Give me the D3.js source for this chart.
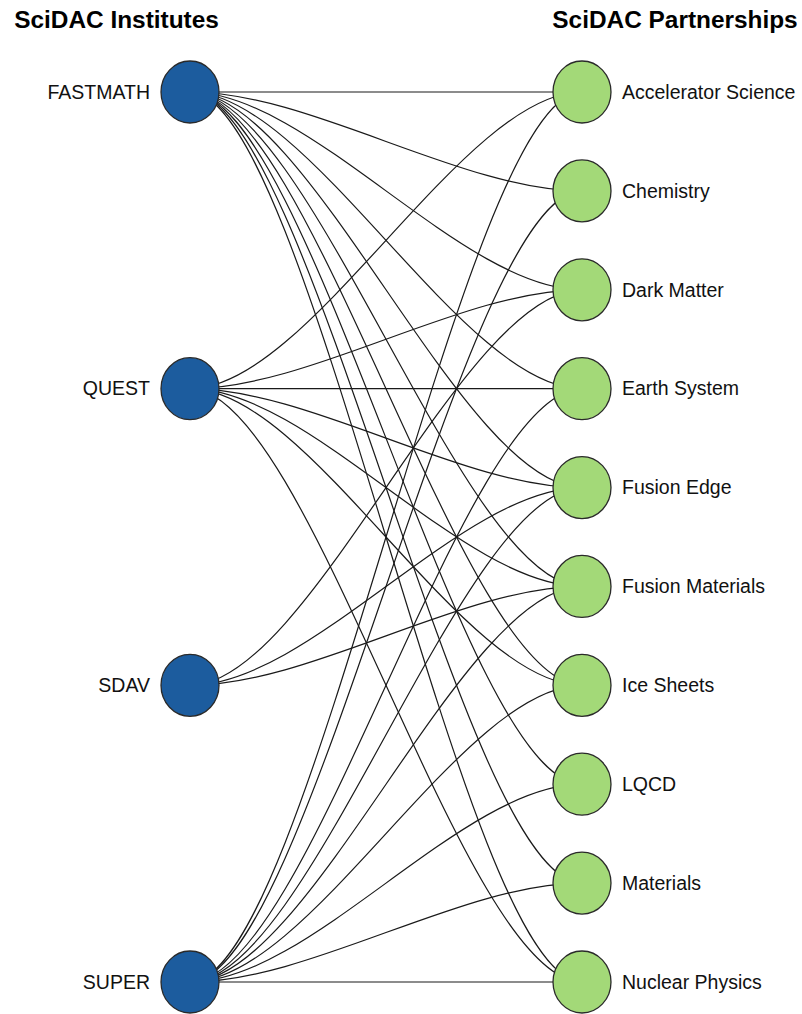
<!DOCTYPE html>
<html lang="en">
<head>
  <meta charset="UTF-8">
  <title>SciDAC</title>
  <script src="https://d3js.org/d3.v7.min.js"></script>
  <style type="text/css">
    body {
      margin: 0;
      background: #fff;
    }
    .title {
      font-family: "Liberation Sans", Arial, sans-serif;
      font-weight: bold;
      font-size: 24.4px;
    }
    .label {
      font-family: "Liberation Sans", Arial, sans-serif;
      font-size: 19.5px;
      fill: #111;
    }
  </style>
</head>
<body>
  <svg id="chart" width="802" height="1014"></svg>

<script>
  // left column
  const institutes = ['FASTMATH', 'QUEST', 'SDAV', 'SUPER']
  // right column
  const partnerships = ['Accelerator Science', 'Chemistry', 'Dark Matter', 'Earth System',
    'Fusion Edge', 'Fusion Materials', 'Ice Sheets', 'LQCD', 'Materials', 'Nuclear Physics']
  // which partnerships each institute is linked to
  const fastmathLinks = ['Accelerator Science', 'Chemistry', 'Dark Matter', 'Earth System',
    'Fusion Edge', 'Fusion Materials', 'Ice Sheets', 'LQCD', 'Materials', 'Nuclear Physics']
  const questLinks = ['Accelerator Science', 'Dark Matter', 'Earth System', 'Fusion Edge',
    'Fusion Materials', 'Ice Sheets', 'Nuclear Physics']
  const sdavLinks = ['Dark Matter', 'Fusion Edge', 'Fusion Materials']
  const superLinks = ['Accelerator Science', 'Chemistry', 'Earth System', 'Fusion Edge',
    'Fusion Materials', 'Ice Sheets', 'LQCD', 'Materials', 'Nuclear Physics']
  const titles = ['SciDAC Institutes', 'SciDAC Partnerships']

  const links = []
  ;[fastmathLinks, questLinks, sdavLinks, superLinks].forEach((list, i) => {
    list.forEach(t => links.push({ source: institutes[i], target: t }))
  })

  const svg = d3.select('#chart')

  const xLeft = 190, xRight = 582
  const yLeft = d3.scalePoint().domain(institutes).range([92, 982])
  const yRight = d3.scalePoint().domain(partnerships).range([92, 982])

  // bezier edge, control points pushed out horizontally from each end
  const pull = 120
  function edgePath (d) {
    const x0 = xLeft, y0 = yLeft(d.source)
    const x1 = xRight, y1 = yRight(d.target)
    const p = d3.path()
    p.moveTo(x0, y0)
    p.bezierCurveTo(x0 + pull, y0, x1 - pull, y1, x1, y1)
    return p.toString()
  }

  svg.append('g')
    .selectAll('path')
    .data(links)
    .join('path')
    .attr('d', edgePath)
    .attr('fill', 'none')
    .attr('stroke', '#1a1a1a')
    .attr('stroke-width', 1.2)

  svg.append('g')
    .selectAll('ellipse')
    .data(institutes)
    .join('ellipse')
    .attr('cx', xLeft)
    .attr('cy', d => yLeft(d))
    .attr('rx', 29)
    .attr('ry', 31)
    .attr('fill', '#1c5c9e')
    .attr('stroke', '#2a2a2a')
    .attr('stroke-width', 1.3)

  svg.append('g')
    .selectAll('ellipse')
    .data(partnerships)
    .join('ellipse')
    .attr('cx', xRight)
    .attr('cy', d => yRight(d))
    .attr('rx', 29)
    .attr('ry', 31)
    .attr('fill', '#a3d978')
    .attr('stroke', '#2a2a2a')
    .attr('stroke-width', 1.3)

  svg.append('g')
    .selectAll('text')
    .data(institutes)
    .join('text')
    .attr('class', 'label')
    .attr('x', 150)
    .attr('y', d => yLeft(d))
    .attr('dy', '0.35em')
    .attr('text-anchor', 'end')
    .text(d => d)

  svg.append('g')
    .selectAll('text')
    .data(partnerships)
    .join('text')
    .attr('class', 'label')
    .attr('x', 622)
    .attr('y', d => yRight(d))
    .attr('dy', '0.35em')
    .text(d => d)

  svg.selectAll('.title')
    .data(titles)
    .join('text')
    .attr('class', 'title')
    .attr('x', (d, i) => i === 0 ? 116.5 : 675)
    .attr('y', 28)
    .attr('text-anchor', 'middle')
    .text(d => d)
</script>
</body>
</html>
